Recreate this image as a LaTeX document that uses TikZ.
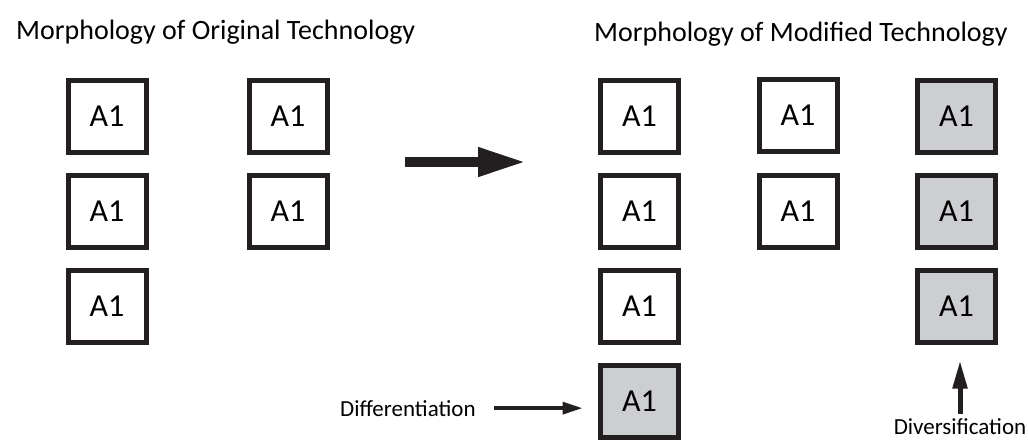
\documentclass[tikz,border=0pt]{standalone}
\usepackage{fontspec}
\setmainfont{Carlito}
\usetikzlibrary{arrows.meta}
\definecolor{boxline}{HTML}{231F20}
\definecolor{boxgray}{HTML}{CDCED2}

\begin{document}
\begin{tikzpicture}[x=1pt,y=-1pt,
  unit/.style={draw=boxline,line width=5pt,minimum width=78pt,minimum height=72pt,inner sep=0pt,font=\fontsize{32}{34}\selectfont},
  newunit/.style={unit,fill=boxgray},
  title/.style={anchor=base west,inner sep=0pt,font=\fontsize{28}{30}\selectfont},
  lbl/.style={inner sep=0pt,font=\fontsize{23}{25}\selectfont}]
\useasboundingbox (0,0) rectangle (1028,440);
\node[title] (orig) at (16,39) {Morphology of Original Technology};
\node[title] (modif) at (594,41) {Morphology of Modified Technology};
% original
\foreach \r/\y in {1/116.5,2/211.5,3/306.5} \node[unit] (a\r) at (107,\y) {A1};
\foreach \r/\y in {1/116.5,2/211.5} \node[unit] (b\r) at (288,\y) {A1};
% modified
\foreach \r/\y in {1/116.5,2/211.5,3/306.5} \node[unit] (c\r) at (639.5,\y) {A1};
\node[newunit] (c4) at (639.5,401.5) {A1};
\node[unit] (d1) at (798,115) {A1};
\node[unit] (d2) at (798,211.5) {A1};
\foreach \r/\y in {1/116.5,2/211.5,3/306.5} \node[newunit] (e\r) at (956.5,\y) {A1};
% arrows
\coordinate (from) at (405,162);
\coordinate (to) at (526,162);
\draw[boxline,line width=10pt,-{Triangle[length=48pt,width=27pt]}] (from)--(to);
\node[lbl,anchor=base west] (diff) at (340,416) {Differentiation};
\draw[boxline,line width=3.5pt,-{Triangle[length=20pt,width=12pt]},shorten <=18pt,shorten >=15.5pt] (diff.east)--(diff.east-|c4.west);
\node[lbl,anchor=base] (divers) at (960,434) {Diversification};
\draw[boxline,line width=5pt,-{Triangle[length=28pt,width=14pt]},shorten <=4pt,shorten >=15.5pt] (divers.north)--(divers.north|-e3.south);
\end{tikzpicture}
\end{document}
